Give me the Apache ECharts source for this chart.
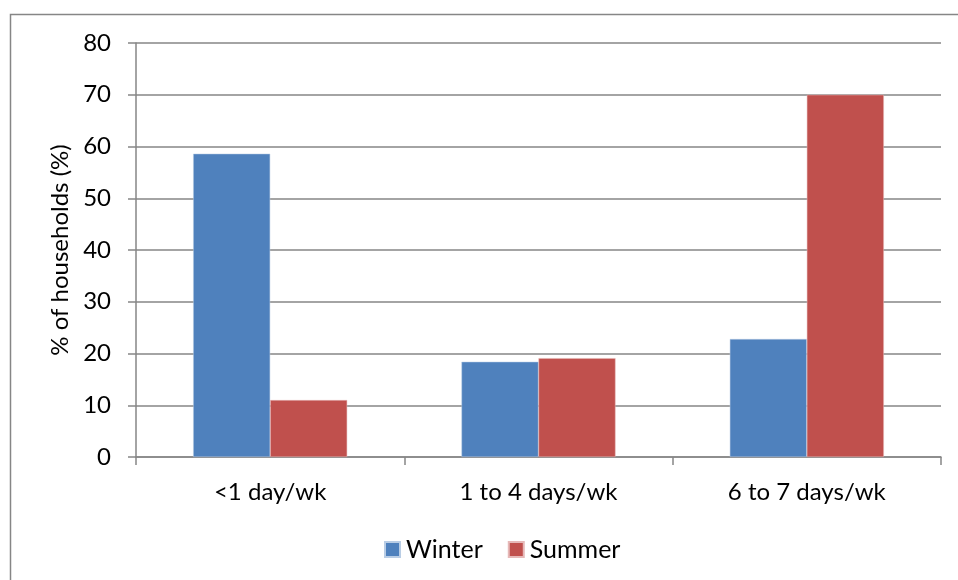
<!DOCTYPE html>
<html><head><meta charset="utf-8">
<script src="https://cdn.jsdelivr.net/npm/echarts@6/dist/echarts.min.js"></script>
<style>html,body{margin:0;padding:0;background:#fff}#c{width:958px;height:580px}</style>
</head><body><div id="c"></div>
<script>
const categories = ['<1 day/wk', '1 to 4 days/wk', '6 to 7 days/wk'];
const winter = [58.6, 18.4, 22.8];
const summer = [11.0, 19.1, 70.0];
const yTicks = [0, 10, 20, 30, 40, 50, 60, 70, 80];

const chart = echarts.init(document.getElementById('c'));
const font = 'Lato, "Open Sans", sans-serif';
const axisColor = '#868686';
chart.setOption({
  animation: false,
  textStyle: {fontFamily: font},
  graphic: [{type: 'rect', shape: {x: 10.5, y: 14.5, width: 960, height: 600}, style: {fill: 'none', stroke: '#868686', lineWidth: 1.5}, z: -1}],
  grid: {left: 136, right: 17, top: 43, bottom: 123},
  legend: {
    bottom: 13, left: 379, itemWidth: 15, itemHeight: 15, itemGap: 25,
    icon: 'rect',
    textStyle: {fontSize: 25, color: '#000', fontFamily: font, padding: [0, 0, 0, 1]},
    data: ['Winter', 'Summer']
  },
  xAxis: {
    type: 'category', data: categories,
    axisLine: {lineStyle: {color: axisColor, width: 1.5}},
    axisTick: {show: true, length: 8, lineStyle: {color: axisColor, width: 1.5}},
    axisLabel: {fontSize: 24, color: '#000', margin: 23, fontFamily: font}
  },
  yAxis: {
    type: 'value', min: yTicks[0], max: yTicks[yTicks.length - 1], interval: 10,
    name: '% of households (%)', nameLocation: 'middle', nameGap: 64,
    nameTextStyle: {fontSize: 24, color: '#000', fontFamily: font, padding: [0, 0, 0, 0]},
    axisLine: {show: true, lineStyle: {color: axisColor, width: 1.5}},
    axisTick: {show: true, length: 8, lineStyle: {color: axisColor, width: 1.5}},
    axisLabel: {fontSize: 24, color: '#000', margin: 25, fontFamily: font},
    splitLine: {lineStyle: {color: axisColor, width: 1.5}}
  },
  series: [
    {name: 'Winter', type: 'bar', data: winter, barGap: '0%', barCategoryGap: '42.6%',
     itemStyle: {color: '#4F81BD', borderColor: '#b9cde5', borderWidth: 0.5}},
    {name: 'Summer', type: 'bar', data: summer, barGap: '0%', barCategoryGap: '42.6%',
     itemStyle: {color: '#C0504D', borderColor: '#e6b9b8', borderWidth: 0.5}}
  ]
});
</script></body></html>
